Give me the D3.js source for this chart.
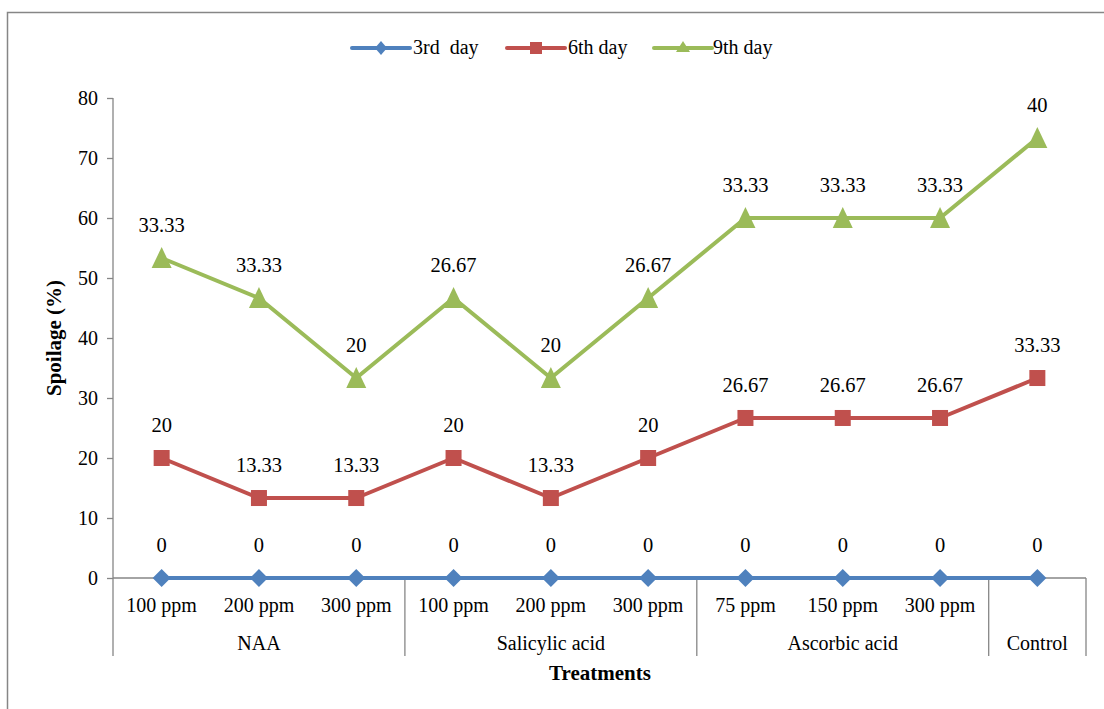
<!DOCTYPE html>
<html><head><meta charset="utf-8">
<script src="https://cdn.jsdelivr.net/npm/d3@7"></script>
<style>body{margin:0;background:#fff}svg{display:block}</style>
</head><body><svg id="c" width="1104" height="709"></svg>
<script>
const categories = ["100 ppm","200 ppm","300 ppm","100 ppm","200 ppm","300 ppm","75 ppm","150 ppm","300 ppm",""];
const groups = [{name:"NAA",n:3},{name:"Salicylic acid",n:3},{name:"Ascorbic acid",n:3},{name:"Control",n:1}];
const seriesNames = ["3rd  day","6th day","9th day"];
const day3 = [0,0,0,0,0,0,0,0,0,0];
const day6 = [20,13.33,13.33,20,13.33,20,26.67,26.67,26.67,33.33];
const day9 = [33.33,33.33,20,26.67,20,26.67,33.33,33.33,33.33,40];
const yTicks = [0,10,20,30,40,50,60,70,80];
const colors = ["#4F81BD","#C0504D","#9BBB59"];

(function(){
const FS = 20, FF = '"Liberation Serif"';
const svg = d3.select("#c");
svg.append("rect").attr("x",7.5).attr("y",12.5).attr("width",1200).attr("height",800)
  .attr("fill","none").attr("stroke","#868686").attr("stroke-width",1.5);

const pL=113, pR=1086, pT=98, pB=578, sepB=656;
const idx = d3.range(categories.length);
const x = d3.scaleBand().domain(idx).range([pL,pR]);
const y = d3.scaleLinear().domain([0,80]).range([pB,pT]);

const rows = idx.map(i=>({i, a:day3[i], b:day6[i], c:day9[i]}));
const stack = d3.stack().keys(["a","b","c"])(rows);
const raw = [day3,day6,day9];

const ya = svg.append("g").attr("transform",`translate(${pL},0)`)
  .call(d3.axisLeft(y).tickValues(yTicks).tickSize(6).tickPadding(9).tickFormat(d3.format("d")));
ya.selectAll("line").attr("stroke","#868686").attr("stroke-width",1.3);
ya.selectAll("text").attr("font-size",FS).attr("fill","#000").style("font-family",FF);
ya.select(".domain").remove();
svg.append("line").attr("x1",pL).attr("x2",pL).attr("y1",pT).attr("y2",sepB).attr("stroke","#868686").attr("stroke-width",1.3);
svg.append("line").attr("x1",pL).attr("x2",pR).attr("y1",pB).attr("y2",pB).attr("stroke","#868686").attr("stroke-width",1.3);

let cum=0;
const bounds=[0];
groups.forEach(g=>{cum+=g.n;bounds.push(cum);});
const bx = b => b>=categories.length ? pR : x(b);
bounds.slice(1).forEach(b=>{
  svg.append("line").attr("x1",bx(b)).attr("x2",bx(b)).attr("y1",pB).attr("y2",sepB).attr("stroke","#868686").attr("stroke-width",1.3);
});
const T = sel => sel.style("font-family",FF).attr("font-size",FS).attr("fill","#000");
svg.append("g").selectAll("text").data(idx).join("text")
  .attr("x",i=>x(i)+x.bandwidth()/2).attr("y",612).attr("text-anchor","middle")
  .call(T).text(i=>categories[i]);
svg.append("g").selectAll("text").data(groups).join("text")
  .attr("x",(g,k)=>(bx(bounds[k])+bx(bounds[k+1]))/2)
  .attr("y",650).attr("text-anchor","middle").call(T).text(g=>g.name);

svg.append("text").attr("x",600).attr("y",680).attr("text-anchor","middle").call(T).attr("font-size",21).attr("font-weight","bold").text("Treatments");
svg.append("text").attr("transform","translate(61,338) rotate(-90)").attr("text-anchor","middle").call(T).attr("font-size",21).attr("font-weight","bold").text("Spoilage (%)");

const cx = i=>x(i)+x.bandwidth()/2;
function marker(g,k,px,py){
  if(k===0){
    g.append("path").attr("d",`M${px},${py-9}L${px+9},${py}L${px},${py+9}L${px-9},${py}Z`).attr("fill",colors[k]);
  } else if(k===1){
    g.append("rect").attr("x",px-8).attr("y",py-8).attr("width",16).attr("height",16).attr("fill",colors[k]);
  } else {
    g.append("path").attr("d",`M${px},${py-11}L${px+10},${py+10}L${px-10},${py+10}Z`).attr("fill",colors[k]);
  }
}
[2,1,0].forEach(k=>{
  const s = stack[k];
  const line = d3.line().x((d,i)=>cx(i)).y(d=>y(d[1]));
  svg.append("path").datum(s).attr("d",line).attr("fill","none").attr("stroke",colors[k]).attr("stroke-width",4).attr("stroke-linejoin","round");
  const g=svg.append("g");
  s.forEach((d,i)=>marker(g,k,cx(i),y(d[1])));
});
[0,1,2].forEach(k=>{
  stack[k].forEach((d,i)=>{
    svg.append("text").attr("x",cx(i)).attr("y",y(d[1])-26).attr("text-anchor","middle").call(T).attr("font-size",20.5)
      .text(d3.format("~g")(raw[k][i]));
  });
});

const leg = [{x0:352,tx:413},{x0:507,tx:568},{x0:654,tx:713}];
leg.forEach((l,k)=>{
  const g=svg.append("g");
  g.append("line").attr("x1",l.x0).attr("x2",l.x0+58).attr("y1",48).attr("y2",48).attr("stroke",colors[k]).attr("stroke-width",4).attr("stroke-linecap","round");
  if(k===0) g.append("path").attr("d",`M${l.x0+29},41L${l.x0+35},48L${l.x0+29},55L${l.x0+23},48Z`).attr("fill",colors[k]);
  if(k===1) g.append("rect").attr("x",l.x0+23).attr("y",42).attr("width",12).attr("height",12).attr("fill",colors[k]);
  if(k===2) g.append("path").attr("d",`M${l.x0+29},41L${l.x0+36},52L${l.x0+22},52Z`).attr("fill",colors[k]);
  g.append("text").attr("x",l.tx).attr("y",54).call(T).style("white-space","pre").text(seriesNames[k]);
});
})();
</script></body></html>
